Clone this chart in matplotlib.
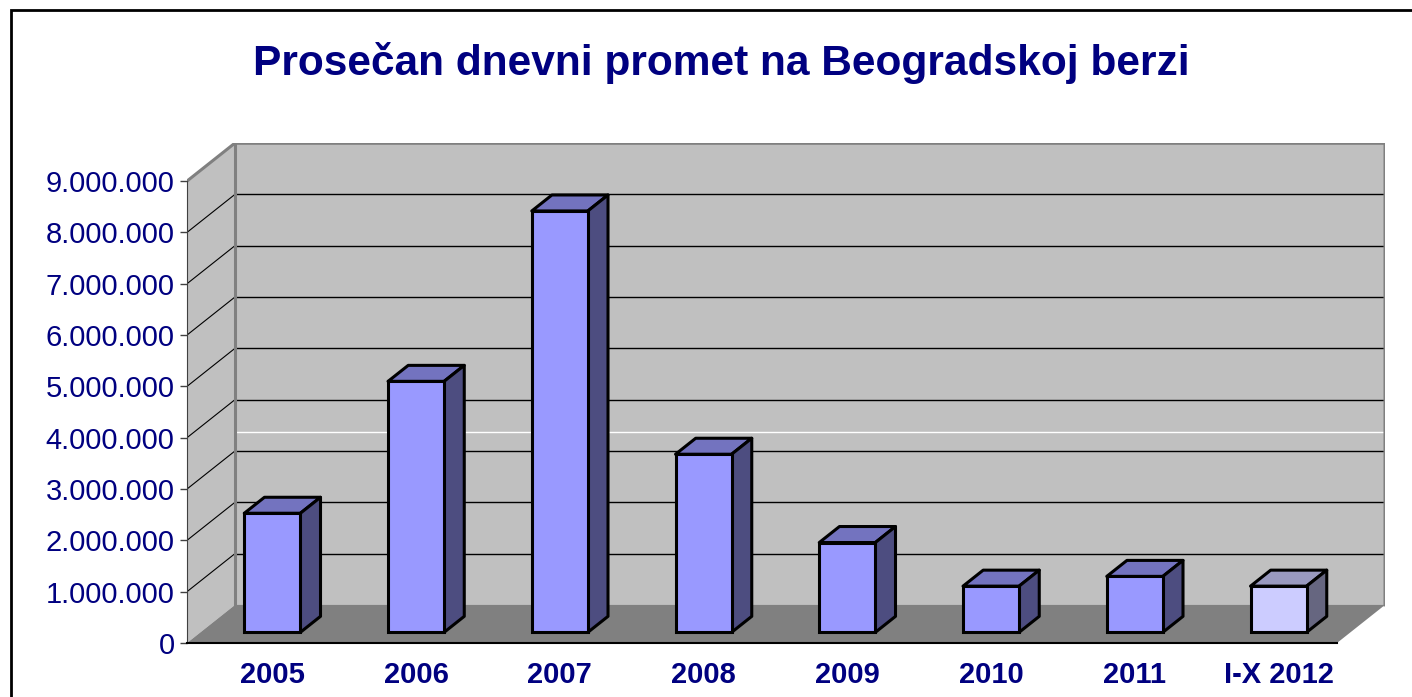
"""Prosečan dnevni promet na Beogradskoj berzi - Excel style 3D column chart."""

import matplotlib

matplotlib.use("Agg")
import matplotlib.pyplot as plt
from matplotlib.patches import Polygon, Rectangle
from matplotlib.ticker import FuncFormatter


years = ["2005", "2006", "2007", "2008", "2009", "2010", "2011", "I-X 2012"]
turnover = [2.32e6, 4.89e6, 8.21e6, 3.47e6, 1.75e6, 0.90e6, 1.09e6, 0.90e6]
y_ticks = [0, 1e6, 2e6, 3e6, 4e6, 5e6, 6e6, 7e6, 8e6, 9e6]
partial_year = "I-X 2012"

NAVY = "#000080"
WALL = "#c0c0c0"
FLOOR = "#808080"
EDGE = "#808080"
FRONT, TOP, SIDE = "#9999ff", "#7373bf", "#4d4d80"
FRONT_P, TOP_P, SIDE_P = "#ccccff", "#9999bf", "#666680"

# oblique projection of the chart box (depth in category / value units)
DEPTH_X = 0.334
DEPTH_Y = 0.742e6
BAR_POS = 0.28     # fraction of depth where bar fronts sit
BAR_DEPTH = 0.42   # bar depth as fraction of box depth
BAR_W = 0.39
Y_MAX = 9e6

plt.rcParams["font.family"] = ["Liberation Sans", "DejaVu Sans"]

fig = plt.figure(figsize=(14.12, 6.97), dpi=100)
fig.patches.append(Rectangle((11 / 1412, -0.1), 1.2, 1.1 - 10 / 697, transform=fig.transFigure,
                             fill=False, edgecolor="black", linewidth=2))

ax = fig.add_axes([187 / 1412, 54 / 697, 1198 / 1412, 500 / 697])
n = len(years)
ax.set_xlim(0, n + DEPTH_X)
ax.set_ylim(0, Y_MAX + DEPTH_Y)
ax.patch.set_visible(False)

# walls and floor
ax.add_patch(Polygon([(DEPTH_X, DEPTH_Y), (n + DEPTH_X, DEPTH_Y), (n + DEPTH_X, Y_MAX + DEPTH_Y),
                      (DEPTH_X, Y_MAX + DEPTH_Y)], closed=True, facecolor=WALL, edgecolor="none", zorder=0))
ax.add_patch(Polygon([(0, 0), (DEPTH_X, DEPTH_Y), (DEPTH_X, Y_MAX + DEPTH_Y), (0, Y_MAX)],
                     closed=True, facecolor=WALL, edgecolor="none", zorder=0))
ax.add_patch(Polygon([(0, 0), (n, 0), (n + DEPTH_X, DEPTH_Y), (DEPTH_X, DEPTH_Y)],
                     closed=True, facecolor=FLOOR, edgecolor="none", zorder=1))

# gridlines on back and side walls
for v in y_ticks[1:]:
    ax.plot([DEPTH_X, n + DEPTH_X], [v + DEPTH_Y, v + DEPTH_Y], color="black", lw=1.0, zorder=0.5)
    ax.plot([0, DEPTH_X], [v, v + DEPTH_Y], color="black", lw=0.8, zorder=0.5)
ax.plot([DEPTH_X, n + DEPTH_X], [3.37e6 + DEPTH_Y] * 2, color="white", lw=1.0, zorder=0.5)

# wall edges
ax.plot([0, DEPTH_X, n + DEPTH_X, n + DEPTH_X], [Y_MAX, Y_MAX + DEPTH_Y, Y_MAX + DEPTH_Y, DEPTH_Y],
        color=EDGE, lw=2.2, zorder=0.6, solid_joinstyle="round")
ax.plot([DEPTH_X, DEPTH_X], [DEPTH_Y, Y_MAX + DEPTH_Y], color=EDGE, lw=2.2, zorder=0.6)

# bars
bx = BAR_POS * DEPTH_X
by = BAR_POS * DEPTH_Y
ddx = BAR_DEPTH * DEPTH_X
ddy = BAR_DEPTH * DEPTH_Y
centers = [i + 0.5 + bx for i in range(n)]
for c, val, name in zip(centers, turnover, years):
    front, top, side = (FRONT_P, TOP_P, SIDE_P) if name == partial_year else (FRONT, TOP, SIDE)
    x0, x1 = c - BAR_W / 2, c + BAR_W / 2
    y0, y1 = by, by + val
    ax.add_patch(Polygon([(x0, y1), (x1, y1), (x1 + ddx, y1 + ddy), (x0 + ddx, y1 + ddy)],
                         closed=True, facecolor=top, edgecolor="black", linewidth=2.2, zorder=3,
                         joinstyle="round"))
    ax.add_patch(Polygon([(x1, y0), (x1 + ddx, y0 + ddy), (x1 + ddx, y1 + ddy), (x1, y1)],
                         closed=True, facecolor=side, edgecolor="black", linewidth=2.2, zorder=3,
                         joinstyle="round"))
    ax.bar(x0, val, width=BAR_W, bottom=by, align="edge", color=front,
           edgecolor="black", linewidth=2.2, zorder=3.1)

# axes
for s in ("top", "right"):
    ax.spines[s].set_visible(False)
ax.spines["left"].set_bounds(0, Y_MAX)
ax.spines["left"].set_color("#404040")
ax.spines["bottom"].set_bounds(0, n)
ax.spines["bottom"].set_color("black")
ax.spines["bottom"].set_linewidth(1.5)

ax.set_yticks(y_ticks)
ax.yaxis.set_major_formatter(FuncFormatter(lambda v, p: f"{int(v):,}".replace(",", ".")))
ax.tick_params(axis="y", length=5, width=1, color="#404040", pad=4, labelsize=21, labelcolor=NAVY)
ax.set_xticks(centers)
ax.set_xticklabels(years, fontsize=21, fontweight="bold", color=NAVY)
ax.tick_params(axis="x", length=0, pad=13)

fig.text(721 / 1412, 1 - 63 / 697, "Prosečan dnevni promet na Beogradskoj berzi",
         ha="center", va="center", fontsize=30.6, fontweight="bold", color=NAVY)

fig.savefig("out.png", dpi=100)
